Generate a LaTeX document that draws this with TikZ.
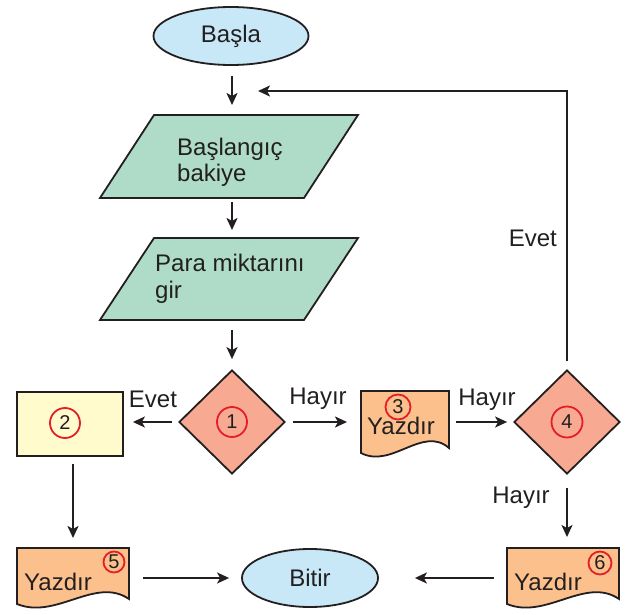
\documentclass[tikz,border=0pt]{standalone}
\usepackage{fontspec}
\setmainfont{Liberation Sans}
\usetikzlibrary{shapes.geometric,arrows.meta,calc}

\definecolor{ink}{RGB}{35,31,32}
\definecolor{termfill}{RGB}{200,232,248}
\definecolor{iofill}{RGB}{174,220,200}
\definecolor{decfill}{RGB}{247,170,145}
\definecolor{docfill}{RGB}{251,192,140}
\definecolor{procfill}{RGB}{255,251,205}
\definecolor{numred}{RGB}{228,30,38}

% document symbol with a wavy lower edge, drawn over a named placeholder node
\newcommand{\docoutline}[1]{%
  \path[shapeline,fill=docfill] (#1.north west) -- (#1.north east)
    -- ($(#1.south east)+(0,-5)$)
    .. controls ($(#1.south east)!0.3!(#1.south west)+(0,-28)$)
       and ($(#1.south west)!0.35!(#1.south east)+(0,16)$) .. (#1.south west)
    -- cycle;}
% input/output parallelogram over a named placeholder node
\newcommand{\iooutline}[1]{%
  \path[shapeline,fill=iofill] ($(#1.north west)+(54,0)$) -- (#1.north east)
    -- ($(#1.south east)+(-54,0)$) -- (#1.south west) -- cycle;}

\begin{document}
\begin{tikzpicture}[x=1pt,y=-1pt,
  shapeline/.style={draw=ink,line width=1.8pt,line join=miter},
  bigfont/.style={font=\fontsize{24}{28}\selectfont},
  terminal/.style={ellipse,shapeline,fill=termfill,inner sep=0pt,bigfont,text=ink},
  decision/.style={diamond,shapeline,fill=decfill,inner sep=0pt,minimum width=106,minimum height=104},
  process/.style={rectangle,shapeline,fill=procfill,inner sep=0pt},
  ghost/.style={rectangle,inner sep=0pt,outer sep=0pt},
  num/.style={circle,draw=numred,line width=1.8pt,inner sep=0pt,text=ink,font=\fontsize{20}{24}\selectfont},
  lbl/.style={bigfont,inner sep=0pt,text=ink,anchor=base},
  arr/.style={draw=ink,line width=1.8pt,-{Stealth[length=12pt,width=11pt,inset=3pt]}}
]
\useasboundingbox (0,0) rectangle (641,615);

% terminals
\node[terminal,minimum width=155,minimum height=58] (start) at (231,36) {Başla};
\node[terminal,minimum width=136,minimum height=58] (stop) at (310,578) {Bitir};

% input/output blocks
\node[ghost,minimum width=258,minimum height=83] (io1) at (229,156.5) {};
\iooutline{io1}
\node[lbl,anchor=base west] (io1a) at (177,156) {Başlangıç};
\node[lbl,anchor=base west] (io1b) at (177,182) {bakiye};

\node[ghost,minimum width=258,minimum height=82] (io2) at (229,279) {};
\iooutline{io2}
\node[lbl,anchor=base west] (io2a) at (155,272) {Para miktarını};
\node[lbl,anchor=base west] (io2b) at (155,299) {gir};

% decisions
\node[decision] (d1) at (232,422) {};
\node[num,minimum size=30] (n1) at (d1.center) {1};
\node[decision] (d4) at (567,422) {};
\node[num,minimum size=31] (n4) at (d4.center) {4};

% process box
\node[process,minimum width=106,minimum height=64] (box2) at (70,424) {};
\node[num,minimum size=30] (n2) at (65,423) {2};

% output documents
\node[ghost,minimum width=88,minimum height=62] (doc3) at (405,422) {};
\docoutline{doc3}
\node[num,minimum size=25] (n3) at (398,407) {3};
\node[lbl,anchor=base west] (y3) at (367,435) {Yazdır};

\node[ghost,minimum width=112,minimum height=56] (doc5) at (73,576) {};
\docoutline{doc5}
\node[num,minimum size=21] (n5) at (114,562) {5};
\node[lbl,anchor=base west] (y5) at (24,590) {Yazdır};

\node[ghost,minimum width=112,minimum height=56] (doc6) at (563,576) {};
\docoutline{doc6}
\node[num,minimum size=23] (n6) at (600,563) {6};
\node[lbl,anchor=base west] (y6) at (514,590) {Yazdır};

% return point of the loop
\coordinate (back) at (258,91);

% connectors
\draw[arr,shorten <=10,shorten >=10] (start.south -| d1) -- (io1.north -| d1);
\draw[arr,shorten <=4,shorten >=8] (io1.south -| d1) -- (io2.north -| d1);
\draw[arr,shorten <=10,shorten >=10] (io2.south -| d1) -- (d1.north);
\draw[arr,shorten <=6,shorten >=9] (d1.west) -- (d1.west -| box2.east);
\draw[arr,shorten <=7,shorten >=14] (d1.east) -- (d1.east -| doc3.west);
\draw[arr,shorten <=7,shorten >=6] (doc3.east |- d4) -- (d4.west);
\draw[arr,shorten <=13,shorten >=11] (d4.south) -- (doc6.north -| d4);
\draw[arr] ([yshift=8]d4.north) |- (back);
\draw[arr,shorten <=7,shorten >=10] (box2.south -| doc5) -- (doc5.north);
\draw[arr,shorten <=14,shorten >=12] (doc5.east |- stop) -- (stop.west);
\draw[arr,shorten <=13,shorten >=36] (doc6.west |- stop) -- (stop.east);

% branch labels
\node[lbl] (e1) at (153,407) {Evet};
\node[lbl] (h1) at (318,404) {Hayır};
\node[lbl] (h2) at (487,406) {Hayır};
\node[lbl] (h3) at (521,503) {Hayır};
\node[lbl,anchor=base east] (e2) at (557,247) {Evet};
\end{tikzpicture}
\end{document}
